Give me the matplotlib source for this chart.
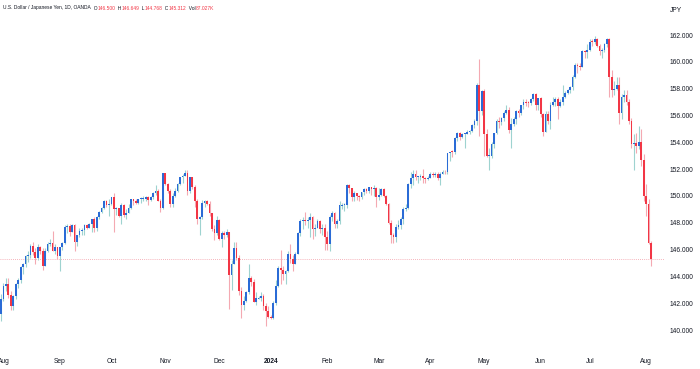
import numpy as np
import pandas as pd
import matplotlib
matplotlib.use("Agg")
import matplotlib.pyplot as plt

# daily bars, USD/JPY (OANDA), weekdays 2023-07-31 .. 2024-08-05
dates = pd.bdate_range("2023-07-31", "2024-08-05")

opens = [
    # Jul 31 + Aug 2023
    141.2, 142.3, 143.3, 143.4, 142.6, 141.8, 142.5, 143.4, 143.7, 144.7, 144.9, 145.5,
    145.6, 146.3, 145.8, 145.4, 146.2, 145.9, 144.8, 145.9, 146.4, 146.5, 145.9, 146.2,
    # Sep
    145.5, 146.2, 146.5, 147.7, 147.75, 147.3, 147.8, 146.6, 147.1, 147.4, 147.45, 147.8,
    147.6, 147.9, 148.3, 147.6, 148.4, 148.8, 149.1, 149.6, 149.3,
    # Oct
    149.4, 149.9, 149.0, 149.1, 148.5, 149.3, 148.6, 148.7, 149.1, 149.8, 149.6, 149.5,
    149.75, 149.8, 149.8, 149.9, 149.7, 149.9, 150.2, 150.4, 149.6, 149.1,
    # Nov
    151.7, 150.9, 150.4, 149.4, 150.0, 150.4, 150.9, 151.4, 151.5, 151.7, 150.4, 151.4,
    150.7, 149.6, 148.3, 148.4, 149.5, 149.6, 149.4, 148.7, 147.5, 147.2,
    # Dec
    148.2, 146.8, 147.2, 147.1, 147.3, 144.1, 144.9, 146.1, 145.4, 142.9, 141.9, 142.2,
    142.8, 143.9, 143.6, 142.1, 142.35, 142.4, 142.5, 141.8, 141.4,
    # Jan 2024
    141.0, 140.9, 142.0, 143.3, 144.6, 144.5, 144.2, 144.4, 145.7, 145.3, 144.9, 145.7,
    147.2, 148.1, 148.2, 148.1, 148.2, 148.4, 147.5, 147.6, 148.1, 147.5, 147.6,
    # Feb
    146.9, 146.4, 148.4, 148.7, 147.9, 148.1, 149.25, 149.3, 149.35, 150.8, 150.6, 149.9,
    150.2, 150.0, 149.9, 150.3, 150.5, 150.4, 150.7, 150.5, 150.6,
    # Mar
    149.9, 150.1, 150.5, 150.0, 149.4, 148.0, 147.1, 146.9, 147.7, 147.8, 148.3, 149.0,
    149.1, 150.9, 151.3, 151.6, 151.4, 151.4, 151.5, 151.3, 151.25,
    # Apr
    151.35, 151.6, 151.55, 151.65, 151.3, 151.6, 151.8, 151.75, 153.2, 153.3, 153.25, 154.3,
    154.7, 154.4, 154.6, 154.65, 154.8, 154.85, 155.3, 155.6, 158.3, 156.3,
    # May
    157.8, 154.6, 152.95, 153.0, 153.9, 154.7, 155.6, 155.5, 155.8, 156.2, 156.4, 154.9,
    155.4, 155.7, 156.3, 156.2, 156.8, 157.0, 156.95, 156.9, 157.2, 157.6, 156.8,
    # Jun
    157.3, 156.1, 154.8, 156.1, 155.6, 156.8, 157.0, 157.2, 156.7, 157.0, 157.4, 157.7,
    157.9, 158.1, 158.9, 159.8, 159.7, 159.65, 160.8, 160.7,
    # Jul
    160.9, 161.5, 161.45, 161.7, 161.2, 160.8, 160.85, 161.3, 161.7, 158.9, 157.9, 158.0,
    158.3, 156.2, 157.4, 157.5, 157.0, 155.6, 153.9, 153.95, 153.75, 154.0, 152.7,
    # Aug
    150.0, 149.4, 146.5,
]

highs = [
    142.7, 143.5, 143.9, 143.9, 142.9, 142.6, 143.5, 143.9, 144.8, 145.0, 145.6, 145.9,
    146.4, 146.6, 146.1, 146.4, 146.3, 146.1, 146.1, 146.6, 146.8, 147.4, 146.4, 146.2,
    146.2, 146.6, 147.8, 147.9, 147.9, 147.9, 147.9, 147.1, 147.6, 147.6, 147.9, 147.9,
    148.0, 148.3, 148.4, 148.5, 148.9, 149.2, 149.7, 149.7, 149.8,
    149.9, 150.2, 149.2, 149.1, 149.5, 149.4, 149.0, 149.4, 149.8, 149.8, 149.8, 149.8,
    149.9, 150.0, 150.0, 150.0, 150.0, 150.3, 150.8, 150.5, 149.8, 151.7,
    151.7, 151.0, 150.5, 150.2, 150.6, 151.0, 151.4, 151.6, 151.9, 151.9, 151.4, 151.4,
    150.8, 149.8, 148.5, 149.7, 149.7, 149.7, 149.6, 148.7, 147.8, 148.5,
    148.3, 147.4, 147.4, 147.5, 147.3, 145.2, 146.6, 146.6, 145.6, 143.2, 142.5, 142.9,
    144.9, 144.0, 143.8, 142.8, 142.5, 142.8, 142.7, 142.0, 141.8,
    141.1, 142.2, 143.7, 144.8, 146.0, 144.8, 144.5, 145.9, 146.4, 145.6, 145.8, 147.3,
    148.3, 148.4, 148.8, 148.4, 148.7, 148.5, 147.9, 148.3, 148.2, 147.9, 147.9,
    147.4, 148.6, 148.9, 148.8, 148.3, 149.6, 149.5, 149.5, 150.9, 150.9, 150.6, 150.4,
    150.2, 150.1, 150.3, 150.6, 150.6, 150.7, 150.7, 150.8, 150.7,
    150.6, 150.6, 150.6, 150.1, 149.5, 148.2, 147.2, 147.9, 148.2, 148.4, 149.2, 149.4,
    151.0, 151.8, 151.9, 151.9, 151.5, 151.6, 152.0, 151.4, 151.5,
    151.8, 151.8, 151.8, 151.8, 151.8, 151.9, 151.9, 153.2, 153.3, 153.4, 154.4, 154.8,
    154.8, 154.7, 154.7, 154.9, 154.9, 155.4, 155.7, 158.4, 160.2, 157.9,
    158.0, 155.0, 153.6, 154.0, 154.7, 155.7, 155.9, 155.9, 156.3, 156.8, 156.6, 155.8,
    155.9, 156.4, 156.5, 156.8, 157.2, 157.2, 157.1, 157.3, 157.7, 157.7, 157.3,
    157.4, 156.2, 156.3, 156.3, 157.0, 157.4, 157.4, 157.4, 157.2, 158.3, 157.8, 158.0,
    158.2, 159.0, 159.9, 159.9, 159.9, 160.9, 160.9, 161.3,
    161.7, 161.7, 161.95, 161.8, 161.3, 161.0, 161.4, 161.8, 161.8, 159.4, 158.6, 158.9,
    158.9, 157.6, 157.9, 157.9, 157.2, 155.8, 154.6, 154.7, 155.2, 155.0, 153.1,
    150.9, 149.8, 146.649,
]

lows = [
    140.7, 142.2, 142.9, 142.4, 141.5, 141.5, 142.3, 143.1, 143.5, 144.2, 144.7, 145.1,
    145.4, 145.6, 144.9, 145.2, 145.7, 144.5, 144.8, 145.8, 146.3, 145.9, 145.7, 145.3,
    144.4, 146.0, 146.4, 147.2, 147.0, 147.3, 145.9, 146.3, 146.9, 147.1, 147.1, 147.5,
    147.6, 147.3, 147.3, 147.4, 148.3, 148.7, 149.0, 149.2, 148.5,
    149.3, 147.3, 148.6, 148.4, 147.9, 148.4, 148.3, 148.7, 149.0, 149.3, 149.4, 149.4,
    149.5, 149.6, 149.6, 149.3, 149.6, 149.8, 150.1, 149.6, 148.8, 149.0,
    150.8, 150.2, 149.2, 149.2, 149.9, 150.3, 150.8, 151.0, 151.5, 150.1, 150.2, 150.5,
    149.2, 147.9, 147.1, 148.3, 149.2, 149.3, 148.5, 147.4, 146.7, 147.1,
    146.7, 146.2, 146.8, 146.9, 141.6, 143.0, 144.9, 145.2, 142.6, 140.9, 141.5, 142.1,
    142.7, 143.3, 142.1, 141.9, 142.3, 142.2, 141.5, 140.3, 140.9,
    140.8, 140.8, 141.9, 143.2, 143.4, 143.7, 143.4, 144.3, 145.0, 144.4, 144.9, 145.7,
    147.0, 147.5, 147.8, 147.6, 146.9, 146.8, 147.0, 147.6, 147.2, 147.1, 146.0,
    146.0, 145.9, 148.1, 147.6, 147.6, 147.9, 149.0, 148.9, 149.1, 150.2, 149.6, 149.6,
    149.7, 149.6, 149.8, 150.1, 150.2, 150.2, 150.1, 150.0, 149.2,
    149.7, 150.0, 149.9, 149.3, 147.9, 146.5, 146.5, 146.6, 147.5, 147.5, 147.9, 148.9,
    149.0, 150.6, 150.8, 151.2, 151.0, 151.2, 151.0, 151.0, 151.2,
    151.3, 151.4, 151.4, 151.2, 150.8, 151.6, 151.6, 151.6, 152.6, 152.9, 153.1, 154.1,
    154.2, 154.3, 153.6, 154.6, 154.6, 154.8, 155.1, 155.3, 154.5, 156.0,
    153.0, 152.9, 151.9, 152.8, 153.6, 154.6, 155.1, 155.3, 155.6, 156.1, 154.7, 153.6,
    155.2, 155.4, 155.9, 156.0, 156.5, 156.7, 156.6, 156.8, 157.1, 156.4, 156.4,
    155.9, 154.5, 154.8, 155.4, 155.0, 156.7, 156.7, 155.7, 156.6, 156.8, 157.3, 157.6,
    157.7, 157.9, 158.8, 159.2, 159.4, 159.6, 160.3, 160.3,
    160.8, 161.2, 161.3, 161.1, 160.5, 160.3, 160.7, 161.1, 157.4, 157.4, 157.5, 157.9,
    155.4, 155.7, 157.0, 156.8, 155.4, 153.6, 151.9, 153.2, 153.5, 152.2, 149.6,
    148.5, 146.4, 144.768,
]

closes = [
    142.3, 143.3, 143.4, 142.6, 141.8, 142.5, 143.4, 143.7, 144.7, 144.9, 145.5, 145.6,
    146.3, 145.8, 145.4, 146.2, 145.9, 144.8, 145.9, 146.4, 146.5, 145.9, 146.2, 145.5,
    146.2, 146.5, 147.7, 147.75, 147.3, 147.8, 146.6, 147.1, 147.4, 147.45, 147.8, 147.6,
    147.9, 148.3, 147.6, 148.4, 148.8, 149.1, 149.6, 149.3, 149.4,
    149.9, 149.0, 149.1, 148.5, 149.3, 148.6, 148.7, 149.1, 149.8, 149.6, 149.5, 149.8,
    149.8, 149.8, 149.9, 149.7, 149.9, 150.2, 150.4, 149.6, 149.1, 151.7,
    150.9, 150.4, 149.4, 150.0, 150.4, 150.9, 151.4, 151.5, 151.7, 150.4, 151.4, 150.7,
    149.6, 148.3, 148.4, 149.5, 149.6, 149.4, 148.7, 147.5, 147.2, 148.2,
    146.8, 147.2, 147.1, 147.3, 144.1, 144.9, 146.1, 145.4, 142.9, 141.9, 142.2, 142.8,
    143.9, 143.6, 142.1, 142.4, 142.4, 142.5, 141.8, 141.4, 141.0,
    140.9, 142.0, 143.3, 144.6, 144.5, 144.2, 144.4, 145.7, 145.3, 144.9, 145.7, 147.2,
    148.1, 148.2, 148.1, 148.2, 148.4, 147.5, 147.6, 148.1, 147.5, 147.6, 146.9,
    146.4, 148.4, 148.7, 147.9, 148.1, 149.3, 149.3, 149.35, 150.8, 150.6, 149.9, 150.2,
    150.0, 149.9, 150.3, 150.5, 150.4, 150.7, 150.5, 150.6, 149.9,
    150.1, 150.5, 150.0, 149.4, 148.0, 147.1, 146.9, 147.7, 147.8, 148.3, 149.0, 149.1,
    150.9, 151.3, 151.6, 151.4, 151.4, 151.5, 151.3, 151.25, 151.35,
    151.6, 151.55, 151.65, 151.3, 151.6, 151.8, 151.75, 153.2, 153.3, 153.25, 154.3, 154.7,
    154.4, 154.6, 154.65, 154.8, 154.85, 155.3, 155.6, 158.3, 156.3, 157.8,
    154.6, 153.0, 153.0, 153.9, 154.7, 155.6, 155.5, 155.8, 156.2, 156.4, 154.9, 155.4,
    155.7, 156.3, 156.2, 156.8, 157.0, 156.95, 156.9, 157.2, 157.6, 156.8, 157.3,
    156.1, 154.8, 156.1, 155.6, 156.8, 157.0, 157.2, 156.7, 157.0, 157.4, 157.7, 157.9,
    158.1, 158.9, 159.8, 159.7, 159.65, 160.8, 160.7, 160.9,
    161.5, 161.45, 161.7, 161.2, 160.8, 160.85, 161.3, 161.7, 158.9, 157.9, 158.0, 158.3,
    156.2, 157.4, 157.5, 157.0, 155.6, 153.9, 153.95, 153.75, 154.0, 152.7, 150.0,
    149.4, 146.5, 145.312,
]

price_ticks = [140, 142, 144, 146, 148, 150, 152, 154, 156, 158, 160, 162]
volume_label = "87.027K"

UP = "#2a6bd6"
DOWN = "#f23645"
UP_WICK = "#9ed3d0"
DOWN_WICK = "#f4a9b2"
TEXT = "#131722"
plt.rcParams["font.family"] = ["Liberation Sans", "DejaVu Sans"]

W, H = 700, 369
fig = plt.figure(figsize=(W / 100, H / 100), dpi=100)
fig.patch.set_facecolor("white")

# plot area in pixels: x 0..665, y 20..350 ; 162 sits at y=35, 13.41 px per yen
ax_top, ax_bot, ax_right = 20, 350, 665
px_per_yen = 13.41
px_per_bar = 2.453
ax = fig.add_axes([0, 1 - ax_bot / H, ax_right / W, (ax_bot - ax_top) / H])
ax.set_ylim(162 - (ax_bot - 35) / px_per_yen, 162 + (35 - ax_top) / px_per_yen)
ax.set_xlim(-1 / px_per_bar, (ax_right - 1) / px_per_bar)

o = np.array(opens)
h = np.array(highs)
l = np.array(lows)
c = np.array(closes)
idx = np.arange(len(c))
up = c >= o

ax.vlines(idx[up], l[up], h[up], color=UP_WICK, lw=0.8, zorder=2)
ax.vlines(idx[~up], l[~up], h[~up], color=DOWN_WICK, lw=0.8, zorder=2)
body_low = np.minimum(o, c)
body_h = np.maximum(np.abs(c - o), 0.07)
ax.bar(idx[up], body_h[up], bottom=body_low[up], width=0.72, color=UP, linewidth=0, zorder=3)
ax.bar(idx[~up], body_h[~up], bottom=body_low[~up], width=0.72, color=DOWN, linewidth=0, zorder=3)

# last price line
ax.axhline(c[-1], color="#f29aa4", lw=0.6, ls=(0, (1, 1.5)), zorder=1)

# month ticks at the first bar of each month
months = dates.month
first = [i for i in range(1, len(dates)) if months[i] != months[i - 1]]
labels = ["2024" if dates[i].month == 1 else dates[i].strftime("%b") for i in first]
ax.set_xticks(first)
ax.set_xticklabels(labels)
for t in ax.get_xticklabels():
    if t.get_text() == "2024":
        t.set_fontweight("bold")

ax.yaxis.tick_right()
ax.set_yticks(price_ticks)
ax.set_yticklabels([f"{v:.3f}" for v in price_ticks])
ax.tick_params(axis="x", length=0, labelsize=4.8, colors=TEXT, pad=5.5)
ax.tick_params(axis="y", length=0, labelsize=4.8, colors=TEXT, pad=3.6)
for s in ax.spines.values():
    s.set_visible(False)

fig.text(670 / W, 1 - 10 / H, "JPY", fontsize=4.8, color=TEXT, va="center", ha="left")

# header: symbol + OHLC of the last bar
pieces = [
    ("U.S. Dollar / Japanese Yen, 1D, OANDA", TEXT),
    ("  O", TEXT), (f"{o[-1]:.3f}", DOWN),
    ("  H", TEXT), (f"{h[-1]:.3f}", DOWN),
    ("  L", TEXT), (f"{l[-1]:.3f}", DOWN),
    ("  C", TEXT), (f"{c[-1]:.3f}", DOWN),
    ("  Vol", TEXT), (volume_label, DOWN),
]
fig.canvas.draw()
renderer = fig.canvas.get_renderer()
xpos = 3
for s, col in pieces:
    t = fig.text(xpos / W, 1 - 8 / H, s, fontsize=3.5, color=col, va="center", ha="left")
    xpos += t.get_window_extent(renderer).width

fig.savefig("out.png", dpi=100, facecolor="white")
